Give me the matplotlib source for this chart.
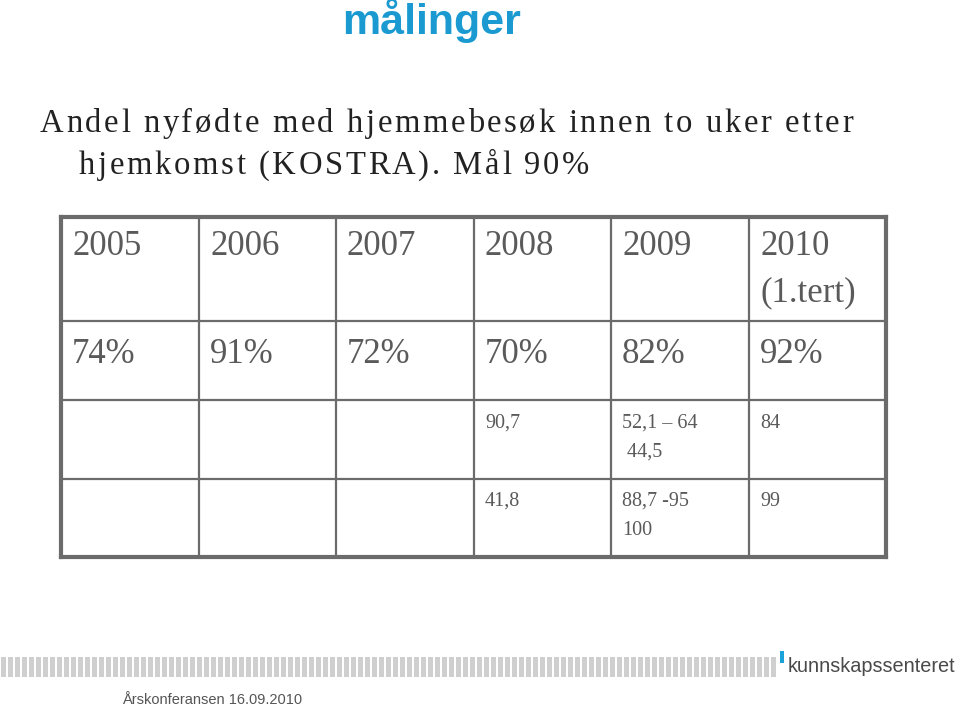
import numpy as np
import matplotlib.pyplot as plt
from matplotlib.patches import Rectangle
from matplotlib.font_manager import FontProperties

# table contents
years = ["2005", "2006", "2007", "2008", "2009", "2010\n(1.tert)"]
shares = ["74%", "91%", "72%", "70%", "82%", "92%"]
row3 = ["", "", "", "90,7", "52,1 \u2013 64\n 44,5", "84"]
row4 = ["", "", "", "41,8", "88,7 -95\n100", "99"]

title = "målinger"
subtitle1 = "Andel nyfødte med hjemmebesøk innen to uker etter"
subtitle2 = "hjemkomst (KOSTRA). Mål 90%"
footer = "Årskonferansen 16.09.2010"
logo = "kunnskapssenteret"

# layout in pixels
col_edges = [61, 199, 336, 474, 611, 749, 886]
row_edges = [217, 321, 400, 479, 557]
line_col = "#6b6b6b"
text_col = "#5a5a5a"
serif = ["Liberation Serif", "DejaVu Serif"]
sans = ["Liberation Sans", "DejaVu Sans"]

fig = plt.figure(figsize=(9.6, 7.08), dpi=100)
ax = fig.add_axes([0, 0, 1, 1])
ax.set_xlim(0, 960)
ax.set_ylim(708, 0)
ax.axis("off")
renderer = fig.canvas.get_renderer()


def text_width(s, prop):
    return renderer.get_text_width_height_descent(s, prop, False)[0]


def spaced_text(x, y, s, size, spacing, **kw):
    # letter-spaced line, drawn one glyph at a time
    prop = FontProperties(family=kw.get("family"), size=size)
    space_w = text_width("a a", prop) - text_width("aa", prop)
    cx = x
    for word in s.split(" "):
        for i, ch in enumerate(word):
            px = cx + text_width(word[:i], prop) + i * spacing if i else cx
            ax.text(px, y, ch, ha="left", va="baseline", fontsize=size, **kw)
        cx += text_width(word, prop) + len(word) * spacing + space_w + spacing


ax.text(432, 21, title, ha="center", va="center", fontsize=31,
        fontweight="bold", color="#1a9ad0", family=sans)

spaced_text(40, 132, subtitle1, 23.5, 2.6, color="#222222", family=serif)
spaced_text(79, 174, subtitle2, 23.5, 2.6, color="#222222", family=serif)

# grid
for i, x in enumerate(col_edges):
    lw = 3 if i in (0, len(col_edges) - 1) else 1.6
    ax.plot([x, x], [row_edges[0], row_edges[-1]], color=line_col, lw=lw,
            solid_capstyle="projecting")
for j, y in enumerate(row_edges):
    lw = 3 if j in (0, len(row_edges) - 1) else 1.6
    ax.plot([col_edges[0], col_edges[-1]], [y, y], color=line_col, lw=lw,
            solid_capstyle="projecting")

# cell text
for c in range(6):
    x0 = col_edges[c] + 11
    ax.text(x0, 230, years[c], ha="left", va="top", fontsize=25,
            color=text_col, family=serif, linespacing=1.55)
    ax.text(x0, 338, shares[c], ha="left", va="top", fontsize=25,
            color=text_col, family=serif)
    ax.text(x0, 414, row3[c], ha="left", va="top", fontsize=14.5,
            color=text_col, family=serif, linespacing=1.7)
    ax.text(x0, 492, row4[c], ha="left", va="top", fontsize=14.5,
            color=text_col, family=serif, linespacing=1.7)

# footer stripe and logo
for x in np.arange(1, 774, 7):
    ax.add_patch(Rectangle((x, 657), 4.5, 20, color="#cfcfcf", lw=0))
ax.add_patch(Rectangle((780, 651), 3.5, 12, color="#1ba3d9", lw=0))
ax.text(788, 667, logo, ha="left", va="center", fontsize=14.3,
        color="#4a4a4a", family=sans)
ax.text(122, 700, footer, ha="left", va="center", fontsize=10.5,
        color="#555555", family=sans)

fig.savefig("out.png", dpi=100)
